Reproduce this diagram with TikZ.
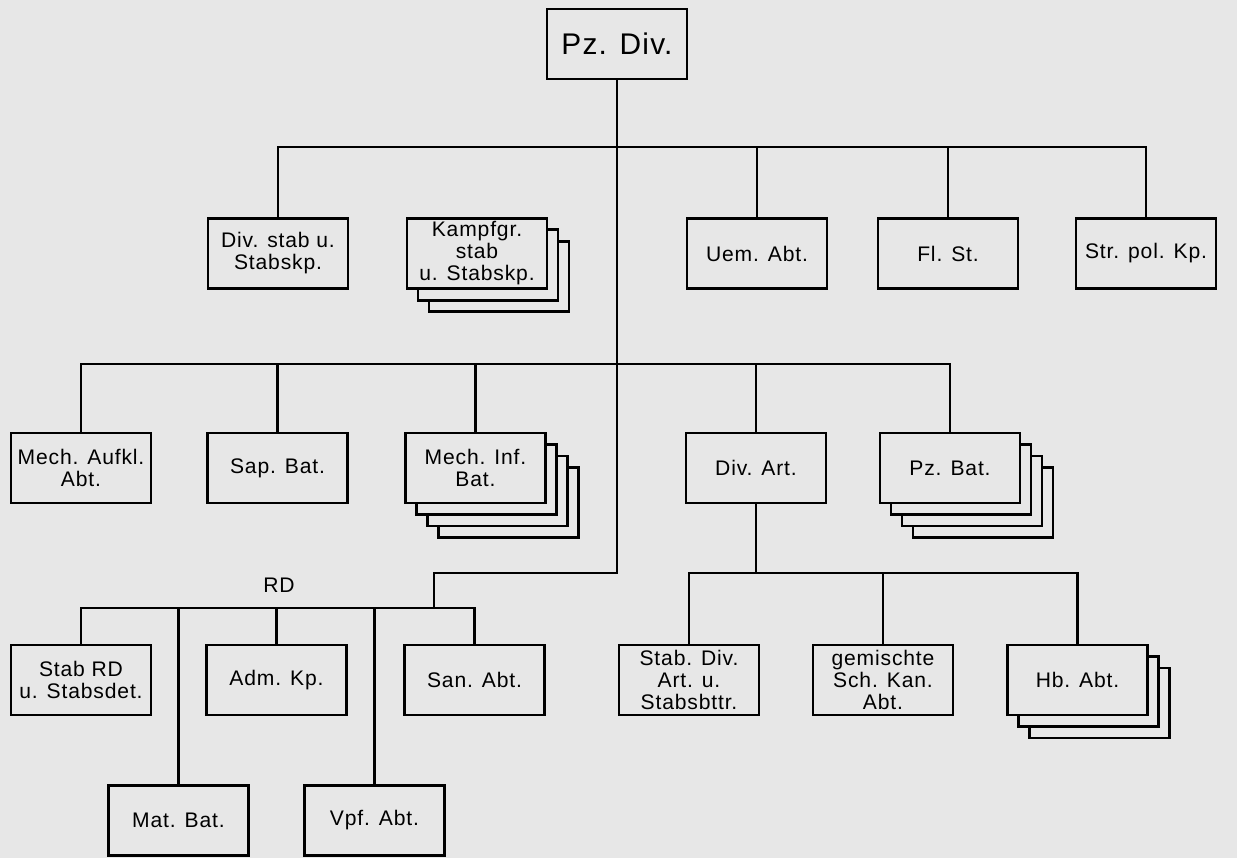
\documentclass[tikz,border=0pt]{standalone}
\usepackage{fontspec}
\setmainfont{Liberation Sans}[LetterSpace=4]
\usepackage{tikz}
\usetikzlibrary{shadows}
\definecolor{paper}{RGB}{231,231,231}
\tikzset{
  oblk/.style={draw, line width=1.5pt, fill=paper, align=center,
               font=\fontsize{12}{12.5}\selectfont,
               minimum width=2.8cm, minimum height=1.4cm, inner sep=2pt},
  osh1/.style={copy shadow={shadow xshift=2.2mm, shadow yshift=-2.3mm,
               draw, fill=paper, line width=1.5pt}},
  osh2/.style={copy shadow={shadow xshift=4.4mm, shadow yshift=-4.6mm,
               draw, fill=paper, line width=1.5pt}},
  osh3/.style={copy shadow={shadow xshift=6.6mm, shadow yshift=-6.9mm,
               draw, fill=paper, line width=1.5pt}},
  ostk2/.style={osh2, osh1, oblk},   % two copies behind
  ostk3/.style={osh3, osh2, osh1, oblk},
  olin/.style={line width=1.2pt},
}

\begin{document}
\begin{tikzpicture}[x=0.2mm, y=-0.2mm]
        \fill[paper] (0,0) rectangle (1237,858);
        \useasboundingbox (0,0) rectangle (1237,858);
        \node[oblk, font=\fontsize{17}{20}\selectfont](pz) at (617,44){Pz. Div.};
        % row 1
        \node[oblk](a1) at (278,253.5){Div. stab u.\\Stabskp.};
        \node[ostk2](a2) at (477,253.5){Kampfgr.\\stab\\u. Stabskp.};
        \node[oblk](a3) at (757,253.5){Uem. Abt.};
        \node[oblk](a4) at (948,253.5){Fl. St.};
        \node[oblk](a5) at (1146,253.5){Str. pol. Kp.};
        % row 2
        \node[oblk](b1) at (81,468){Mech. Aufkl.\\Abt.};
        \node[oblk](b2) at (277.5,468){Sap. Bat.};
        \node[ostk3](b3) at (475.5,468){Mech. Inf.\\Bat.};
        \node[oblk](b4) at (756,468){Div. Art.};
        \node[ostk3](b5) at (950,468){Pz. Bat.};
        % RD
        \node[font=\fontsize{12}{12.5}\selectfont](rd) at (279,585){RD};
        \node[oblk](c1) at (81,680){Stab RD\\u. Stabsdet.};
        \node[oblk](c2) at (276.5,680){Adm. Kp.};
        \node[oblk](c3) at (474.5,680){San. Abt.};
        \node[oblk](c4) at (178.5,820.5){Mat. Bat.};
        \node[oblk](c5) at (374.5,820.5){Vpf. Abt.};
        % Div. Art.
        \node[oblk](d1) at (689,680){Stab. Div.\\Art. u.\\Stabsbttr.};
        \node[oblk](d2) at (883,680){gemischte\\Sch. Kan.\\Abt.};
        \node[ostk2](d3) at (1077.5,680){Hb. Abt.};
        \coordinate (t1) at (617,147);
        \coordinate (t2) at (617,364);
        \coordinate (k) at (617,573);
        \coordinate (j) at (434,608);
        \coordinate (m) at (756,573);
        \draw[olin](pz.south)--(k)-|(j);
        \draw[olin](a1.north)|-(t1)-|(a5.north);
        \draw[olin](a3.north)--(a3.north|-t1); \draw[olin](a4.north)--(a4.north|-t1);
        \draw[olin](b1.north)|-(t2)-|(b5.north);
        \draw[olin](b2.north)--(b2.north|-t2); \draw[olin](b3.north)--(b3.north|-t2);
        \draw[olin](b4.north)--(b4.north|-t2);
        \draw[olin](c1.north)|-(j)-|(c3.north);
        \draw[olin](c2.north)--(c2.north|-j);
        \draw[olin](c4.north)--(c4.north|-j); \draw[olin](c5.north)--(c5.north|-j);
        \draw[olin](b4.south)--(m);
        \draw[olin](d1.north)|-(m)-|(d3.north);
        \draw[olin](d2.north)--(d2.north|-m);
      \end{tikzpicture}
\end{document}
